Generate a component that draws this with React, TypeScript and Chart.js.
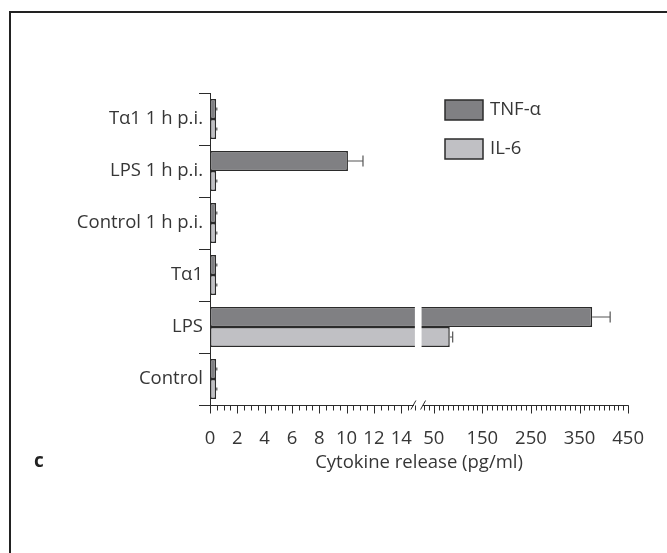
import React, { useEffect, useRef } from 'react';
import { Chart, registerables, LinearScale } from 'chart.js';

Chart.register(...registerables);

// ---- data ----
const categories = ['Tα1 1 h p.i.', 'LPS 1 h p.i.', 'Control 1 h p.i.', 'Tα1', 'LPS', 'Control'];
const tnfValues = [0.45, 10.1, 0.45, 0.45, 376, 0.45];
const tnfErrors = [0.05, 1.1, 0.05, 0.05, 37, 0.05];
const il6Values = [0.45, 0.45, 0.45, 0.45, 83, 0.45];
const il6Errors = [0.05, 0.05, 0.05, 0.05, 6, 0.05];
const xTickLabels = [0, 2, 4, 6, 8, 10, 12, 14, 50, 150, 250, 350, 450];
const lowerMinorStep = 0.5;
const upperMinorStep = 10;
const seriesNames = ['TNF-α', 'IL-6'];

// ---- broken axis geometry (share of the axis length) ----
const LOW_MAX = 15;
const HIGH_MIN = 25;
const HIGH_MAX = 450;
const LOW_SHARE = 0.49;
const HIGH_START = 0.506;

const TEXT = '#363636';
const EDGE = '#2b2b2b';
const FONT_FAMILY = '"Open Sans", "Noto Sans", sans-serif';
const FONT_SIZE = 18.5;

function valueToDecimal(v: number): number {
  if (v <= LOW_MAX) return (v / LOW_MAX) * LOW_SHARE;
  if (v >= HIGH_MIN) return HIGH_START + ((v - HIGH_MIN) / (HIGH_MAX - HIGH_MIN)) * (1 - HIGH_START);
  return LOW_SHARE + ((v - LOW_MAX) / (HIGH_MIN - LOW_MAX)) * (HIGH_START - LOW_SHARE);
}

function decimalToValue(d: number): number {
  if (d <= LOW_SHARE) return (d / LOW_SHARE) * LOW_MAX;
  if (d >= HIGH_START) return HIGH_MIN + ((d - HIGH_START) / (1 - HIGH_START)) * (HIGH_MAX - HIGH_MIN);
  return LOW_MAX + ((d - LOW_SHARE) / (HIGH_START - LOW_SHARE)) * (HIGH_MIN - LOW_MAX);
}

// Linear scale with a break between the low and high ranges
class BrokenLinearScale extends LinearScale {
  static id = 'brokenLinear';
  static defaults = LinearScale.defaults;
  getPixelForValue(value: any) {
    if (value === null || value === undefined || isNaN(value)) return NaN;
    return this.getPixelForDecimal(valueToDecimal(+value));
  }
  getValueForPixel(pixel: number) {
    return decimalToValue(this.getDecimalForPixel(pixel));
  }
}
Chart.register(BrokenLinearScale as any);

function minorTicks(): { v: number; major: boolean }[] {
  const out: { v: number; major: boolean }[] = [];
  for (let v = 0; v <= LOW_MAX + 1e-9; v += lowerMinorStep) {
    out.push({ v, major: Math.abs(v % 2) < 1e-9 });
  }
  for (let v = 30; v <= HIGH_MAX + 1e-9; v += upperMinorStep) {
    out.push({ v, major: (v - 50) % 100 === 0 });
  }
  return out;
}

const decorPlugin = {
  id: 'decor',
  afterDatasetsDraw(chart: any) {
    const { ctx, chartArea } = chart;
    const xs = chart.scales.x;
    // white gap through bars at the axis break
    const g0 = xs.getPixelForValue(LOW_MAX);
    const g1 = xs.getPixelForValue(HIGH_MIN);
    ctx.save();
    ctx.fillStyle = '#ffffff';
    ctx.fillRect(g0, chartArea.top, g1 - g0, chartArea.bottom - chartArea.top - 1);
    ctx.restore();

    // error bars (positive side with cap)
    const errs = [tnfErrors, il6Errors];
    const vals = [tnfValues, il6Values];
    ctx.save();
    ctx.strokeStyle = '#555555';
    ctx.lineWidth = 1.2;
    chart.data.datasets.forEach((_ds: any, di: number) => {
      const meta = chart.getDatasetMeta(di);
      meta.data.forEach((bar: any, i: number) => {
        const x0 = xs.getPixelForValue(vals[di][i]);
        const x1 = xs.getPixelForValue(vals[di][i] + errs[di][i]);
        const cap = errs[di][i] > 1 ? 5.5 : 1.5;
        ctx.beginPath();
        ctx.moveTo(x0, bar.y);
        ctx.lineTo(x1, bar.y);
        ctx.moveTo(x1, bar.y - cap);
        ctx.lineTo(x1, bar.y + cap);
        ctx.stroke();
      });
    });
    ctx.restore();
  },
  afterDraw(chart: any) {
    const { ctx, chartArea } = chart;
    const xs = chart.scales.x;
    const ys = chart.scales.y;
    const x0 = xs.getPixelForValue(0);
    const yb = chartArea.bottom;
    ctx.save();
    ctx.strokeStyle = EDGE;
    ctx.lineWidth = 1;

    // y axis line and category separators
    ctx.beginPath();
    ctx.moveTo(x0 + 0.5, chartArea.top);
    ctx.lineTo(x0 + 0.5, yb);
    for (let i = 0; i <= categories.length; i++) {
      const y = Math.round(ys.getPixelForValue(i - 0.5)) + 0.5;
      ctx.moveTo(x0 - 11, y);
      ctx.lineTo(x0 + 0.5, y);
    }
    ctx.stroke();

    // x axis line with break
    const bA = xs.getPixelForValue(LOW_MAX);
    const bB = xs.getPixelForValue(HIGH_MIN);
    const y = Math.round(yb) + 0.5;
    ctx.beginPath();
    ctx.moveTo(x0 - 11, y);
    ctx.lineTo(bA - 1, y);
    ctx.moveTo(bB + 1, y);
    ctx.lineTo(xs.getPixelForValue(HIGH_MAX) + 0.5, y);
    // break marks
    ctx.moveTo(bA - 4, y + 4);
    ctx.lineTo(bA + 1, y - 5);
    ctx.moveTo(bB - 1, y + 4);
    ctx.lineTo(bB + 4, y - 5);
    // ticks
    minorTicks().forEach((t) => {
      const px = Math.round(xs.getPixelForValue(t.v)) + 0.5;
      ctx.moveTo(px, y);
      ctx.lineTo(px, y + (t.major ? 8 : 5));
    });
    ctx.stroke();

    // panel frame
    ctx.strokeStyle = '#222222';
    ctx.lineWidth = 2;
    ctx.beginPath();
    ctx.moveTo(10, chart.height);
    ctx.lineTo(10, 12);
    ctx.lineTo(chart.width, 12);
    ctx.stroke();

    // legend
    const colors = ['rgb(128,128,131)', 'rgb(192,192,196)'];
    const boxTop = [100, 139];
    ctx.lineWidth = 1.5;
    ctx.strokeStyle = EDGE;
    ctx.font = `${FONT_SIZE}px ${FONT_FAMILY}`;
    ctx.textBaseline = 'middle';
    ctx.textAlign = 'left';
    seriesNames.forEach((name, i) => {
      ctx.fillStyle = colors[i];
      ctx.fillRect(445, boxTop[i], 38, 20);
      ctx.strokeRect(445, boxTop[i], 38, 20);
      ctx.fillStyle = TEXT;
      ctx.fillText(name, 490, boxTop[i] + 10);
    });

    // panel letter
    ctx.font = `bold 19px ${FONT_FAMILY}`;
    ctx.fillStyle = '#222222';
    ctx.textAlign = 'center';
    ctx.fillText('c', 39, 462);
    ctx.restore();
  },
};

export default function App() {
  const canvasRef = useRef<HTMLCanvasElement | null>(null);

  useEffect(() => {
    const canvas = canvasRef.current;
    if (!canvas) return;
    const font = { family: FONT_FAMILY, size: FONT_SIZE };
    const chart = new Chart(canvas, {
      type: 'bar',
      data: {
        labels: categories,
        datasets: [
          {
            label: seriesNames[0],
            data: tnfValues,
            backgroundColor: 'rgb(128,128,131)',
            borderColor: EDGE,
            borderWidth: 1.5,
            borderSkipped: false,
          },
          {
            label: seriesNames[1],
            data: il6Values,
            backgroundColor: 'rgb(192,192,196)',
            borderColor: EDGE,
            borderWidth: 1.5,
            borderSkipped: false,
          },
        ],
      },
      options: {
        indexAxis: 'y',
        responsive: false,
        animation: false,
        devicePixelRatio: 1,
        categoryPercentage: 0.77,
        barPercentage: 1,
        layout: { padding: { top: 93, right: 38, left: 0, bottom: 0 } },
        plugins: { legend: { display: false }, tooltip: { enabled: false } },
        scales: {
          x: {
            type: 'brokenLinear' as any,
            min: 0,
            max: HIGH_MAX,
            position: 'bottom',
            afterBuildTicks: (s: any) => {
              s.ticks = xTickLabels.map((v) => ({ value: v }));
            },
            afterFit: (s: any) => {
              s.height = 148;
            },
            grid: { display: false, drawTicks: false },
            border: { display: false },
            ticks: {
              autoSkip: false,
              maxRotation: 0,
              padding: 23,
              color: TEXT,
              font,
              callback: (v: any) => String(v),
            },
            title: {
              display: true,
              text: 'Cytokine release (pg/ml)',
              color: TEXT,
              font,
              padding: { top: 0, bottom: 79 },
            },
          },
          y: {
            type: 'category',
            afterFit: (s: any) => {
              s.width = 210;
            },
            grid: { display: false, drawTicks: false },
            border: { display: false },
            ticks: { padding: 7, color: TEXT, font },
          },
        },
      } as any,
      plugins: [decorPlugin],
    });
    return () => chart.destroy();
  }, []);

  return (
    <div style={{ position: 'fixed', left: 0, top: 0, width: 667, height: 553, background: '#fff' }}>
      <canvas ref={canvasRef} width={667} height={553} style={{ display: 'block' }} />
    </div>
  );
}
